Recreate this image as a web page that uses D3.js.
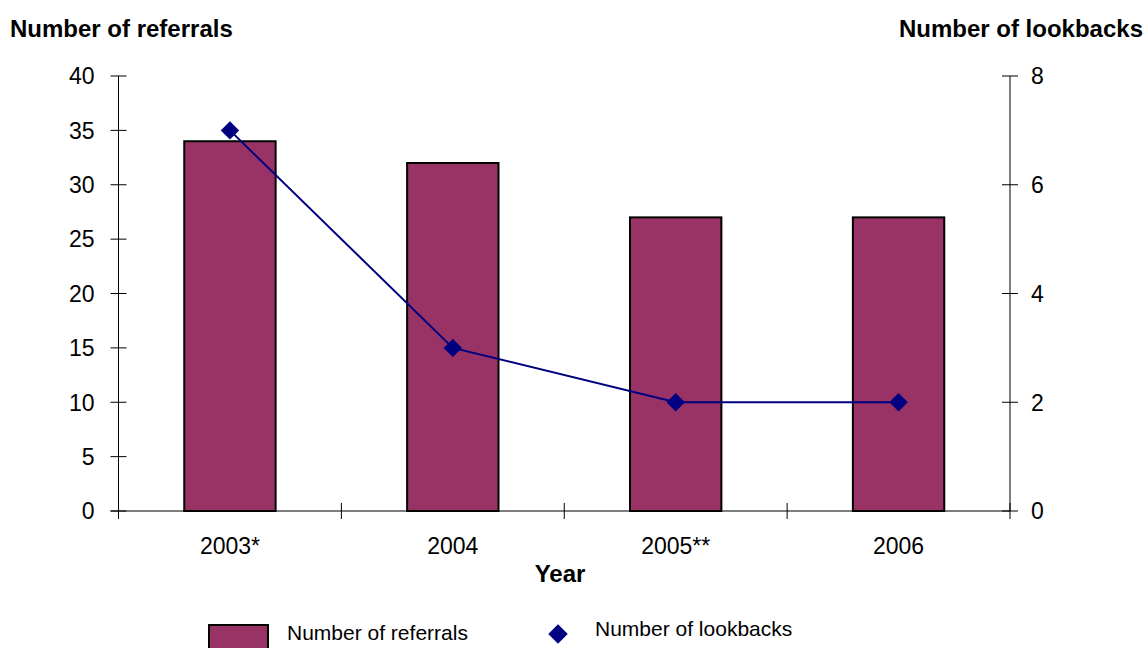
<!DOCTYPE html>
<html>
<head>
<meta charset="utf-8">
<script src="https://cdn.jsdelivr.net/npm/d3@7"></script>
<style>
  html, body { margin: 0; padding: 0; background: #fff; }
  svg { display: block; font-family: "Liberation Sans", Arial, sans-serif; }
</style>
</head>
<body>
<svg id="chart" width="1146" height="648"></svg>
<script>
// Referrals (bars, left axis) and lookbacks (line, right axis) per year
const years = ["2003*", "2004", "2005**", "2006"];
const referrals = [34, 32, 27, 27];
const lookbacks = [7, 3, 2, 2];
const leftTicks = [0, 5, 10, 15, 20, 25, 30, 35, 40];
const rightTicks = [0, 2, 4, 6, 8];

const svg = d3.select("#chart");
const plot = { left: 118.5, right: 1010, top: 76, bottom: 511 };

const x = d3.scaleBand().domain(years).range([plot.left, plot.right]).paddingInner(0.59).paddingOuter(0.295);
const xOuter = d3.scaleBand().domain(years).range([plot.left, plot.right]);
const yL = d3.scaleLinear().domain([0, 40]).range([plot.bottom, plot.top]);
const yR = d3.scaleLinear().domain([0, 8]).range([plot.bottom, plot.top]);

const fontSize = 23;
const titleSize = 24;
const legendSize = 21;

// Bars
svg.append("g").selectAll("rect").data(years).join("rect")
  .attr("x", d => x(d))
  .attr("y", (d, i) => yL(referrals[i]))
  .attr("width", x.bandwidth())
  .attr("height", (d, i) => plot.bottom - yL(referrals[i]))
  .attr("fill", "#993366")
  .attr("stroke", "#000")
  .attr("stroke-width", 2);

// Left axis
const gL = svg.append("g").attr("transform", `translate(${plot.left},0)`);
gL.append("line").attr("y1", plot.top).attr("y2", plot.bottom).attr("stroke", "#000");
gL.selectAll("line.tick").data(leftTicks).join("line").attr("class", "tick")
  .attr("x1", -8).attr("x2", 8)
  .attr("y1", d => yL(d)).attr("y2", d => yL(d)).attr("stroke", "#000");
gL.selectAll("text").data(leftTicks).join("text")
  .attr("x", -24).attr("y", d => yL(d)).attr("dy", "0.36em")
  .attr("text-anchor", "end").attr("font-size", fontSize).text(d => d);

// Right axis
const gR = svg.append("g").attr("transform", `translate(${plot.right},0)`);
gR.append("line").attr("y1", plot.top).attr("y2", plot.bottom).attr("stroke", "#000");
gR.selectAll("line.tick").data(rightTicks).join("line").attr("class", "tick")
  .attr("x1", -8).attr("x2", 8)
  .attr("y1", d => yR(d)).attr("y2", d => yR(d)).attr("stroke", "#000");
gR.selectAll("text").data(rightTicks).join("text")
  .attr("x", 21).attr("y", d => yR(d)).attr("dy", "0.36em")
  .attr("text-anchor", "start").attr("font-size", fontSize).text(d => d);

// X axis
const gX = svg.append("g");
gX.append("line").attr("x1", plot.left - 8).attr("x2", plot.right)
  .attr("y1", plot.bottom).attr("y2", plot.bottom).attr("stroke", "#000");
const boundaries = years.map(d => xOuter(d)).concat([plot.right]);
gX.selectAll("line.tick").data(boundaries).join("line").attr("class", "tick")
  .attr("x1", d => d).attr("x2", d => d)
  .attr("y1", plot.bottom - 8).attr("y2", plot.bottom + 8).attr("stroke", "#000");
gX.selectAll("text").data(years).join("text")
  .attr("x", d => xOuter(d) + xOuter.bandwidth() / 2).attr("y", 554)
  .attr("text-anchor", "middle").attr("font-size", fontSize).text(d => d);

// Lookbacks line with diamond markers
const cx = d => x(d) + x.bandwidth() / 2;
svg.append("path")
  .datum(years)
  .attr("d", d3.line().x(cx).y((d, i) => yR(lookbacks[i])))
  .attr("fill", "none").attr("stroke", "#000080").attr("stroke-width", 2);
const diamond = d3.symbol().type(d3.symbolSquare).size(170);
svg.append("g").selectAll("path").data(years).join("path")
  .attr("d", diamond)
  .attr("transform", (d, i) => `translate(${cx(d)},${yR(lookbacks[i])}) rotate(45)`)
  .attr("fill", "#000080");

// Axis titles
svg.append("text").attr("x", 10).attr("y", 37).attr("font-size", titleSize).attr("font-weight", "bold")
  .text("Number of referrals");
svg.append("text").attr("x", 1143).attr("y", 37).attr("font-size", titleSize).attr("font-weight", "bold")
  .attr("text-anchor", "end").text("Number of lookbacks");
svg.append("text").attr("x", 560).attr("y", 582).attr("font-size", titleSize).attr("font-weight", "bold")
  .attr("text-anchor", "middle").text("Year");

// Legend
const lg = svg.append("g");
lg.append("rect").attr("x", 209).attr("y", 625).attr("width", 59).attr("height", 30)
  .attr("fill", "#993366").attr("stroke", "#000").attr("stroke-width", 2);
lg.append("text").attr("x", 287).attr("y", 640).attr("font-size", legendSize).text("Number of referrals");
lg.append("path").attr("d", d3.symbol().type(d3.symbolSquare).size(190))
  .attr("transform", "translate(558,634) rotate(45)").attr("fill", "#000080");
lg.append("text").attr("x", 595).attr("y", 636).attr("font-size", legendSize).text("Number of lookbacks");
</script>
</body>
</html>
